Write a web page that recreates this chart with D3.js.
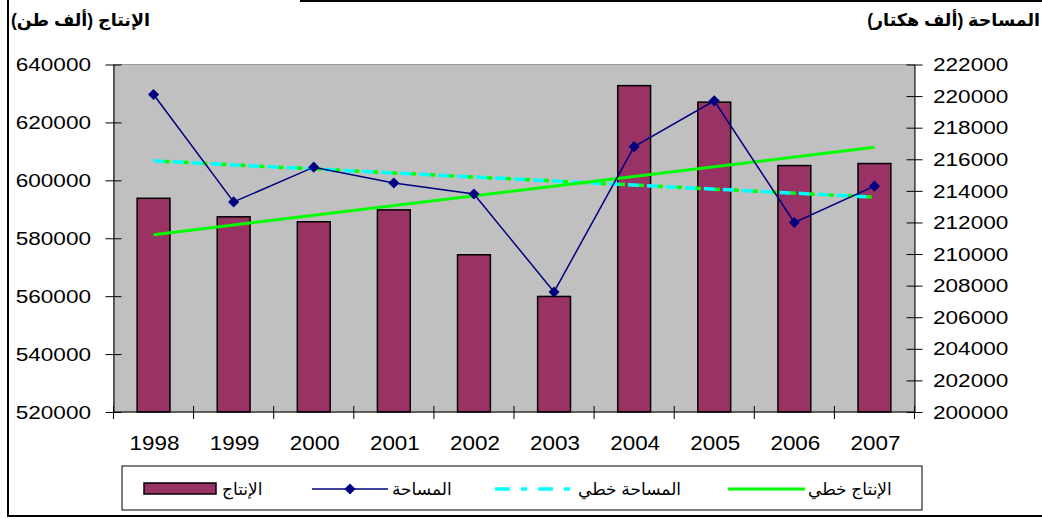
<!DOCTYPE html>
<html>
<head>
<meta charset="utf-8">
<script src="https://cdn.jsdelivr.net/npm/d3@7"></script>
<style>
  body { margin: 0; background: #fff; }
  text { font-family: "Liberation Sans", Arial, "DejaVu Sans", sans-serif; }
</style>
</head>
<body>
<div id="chart"></div>
<script>
var years = ["1998", "1999", "2000", "2001", "2002", "2003", "2004", "2005", "2006", "2007"];
var production = [593800, 587400, 585700, 589800, 574300, 559900, 632700, 627000, 605100, 605800];
var area = [220100, 213300, 215500, 214500, 213800, 207600, 216800, 219700, 212000, 214300];
// trend lines (start 1998, end 2007)
var productionTrend = [581200, 611400];
var areaTrend = [215900, 213600];
var leftTicks = [520000, 540000, 560000, 580000, 600000, 620000, 640000];
var rightTicks = [200000, 202000, 204000, 206000, 208000, 210000, 212000, 214000, 216000, 218000, 220000, 222000];
var leftTitle = "الإنتاج (ألف طن)";
var rightTitle = "المساحة (ألف هكتار)";
var legendLabels = ["الإنتاج", "المساحة", "المساحة خطي", "الإنتاج خطي"];

var W = 1042, H = 519;
var plot = {left: 113.5, right: 914.5, top: 64.5, bottom: 412};

var svg = d3.select("#chart").append("svg").attr("width", W).attr("height", H);

// outer frame
svg.append("line").attr("x1", 8).attr("x2", 8).attr("y1", 0).attr("y2", 517).attr("stroke", "#000").attr("stroke-width", 2);
svg.append("line").attr("x1", 7).attr("x2", W).attr("y1", 516).attr("y2", 516).attr("stroke", "#000").attr("stroke-width", 2);
svg.append("line").attr("x1", 300).attr("x2", W).attr("y1", 1).attr("y2", 1).attr("stroke", "#000").attr("stroke-width", 2);

var x = d3.scaleBand().domain(years).range([plot.left, plot.right]).paddingInner(0.59).paddingOuter(0.295);
var yL = d3.scaleLinear().domain([520000, 640000]).range([plot.bottom, plot.top]);
var yR = d3.scaleLinear().domain([200000, 222000]).range([plot.bottom, plot.top]);
var cx = d => x(d) + x.bandwidth() / 2;

svg.append("rect").attr("x", plot.left).attr("y", plot.top).attr("width", plot.right - plot.left).attr("height", plot.bottom - plot.top)
  .attr("fill", "#c0c0c0").attr("stroke", "#9a9a9a").attr("stroke-width", 1);

// bars
svg.append("g").selectAll("rect").data(production).enter().append("rect")
  .attr("x", (d, i) => x(years[i]))
  .attr("y", d => yL(d))
  .attr("width", x.bandwidth())
  .attr("height", d => plot.bottom - yL(d))
  .attr("fill", "#993366").attr("stroke", "#000").attr("stroke-width", 1.5);

// area trend (cyan dashes with green bits in between)
var areaTrendPts = [[cx(years[0]), yR(areaTrend[0])], [cx(years[years.length - 1]), yR(areaTrend[1])]];
svg.append("path").attr("d", d3.line()(areaTrendPts)).attr("fill", "none")
  .attr("stroke", "#00ff00").attr("stroke-width", 3.5).attr("stroke-dasharray", "5,14").attr("stroke-dashoffset", -11);
svg.append("path").attr("d", d3.line()(areaTrendPts)).attr("fill", "none")
  .attr("stroke", "#00ffff").attr("stroke-width", 3.5).attr("stroke-dasharray", "11,8");

// production trend
var prodTrendPts = [[cx(years[0]), yL(productionTrend[0])], [cx(years[years.length - 1]), yL(productionTrend[1])]];
svg.append("path").attr("d", d3.line()(prodTrendPts)).attr("fill", "none").attr("stroke", "#00ff00").attr("stroke-width", 3);

// area line
var areaLine = d3.line().x((d, i) => cx(years[i])).y(d => yR(d));
svg.append("path").attr("d", areaLine(area)).attr("fill", "none").attr("stroke", "#000080").attr("stroke-width", 1.5);
var diamond = d3.symbol().type(d3.symbolSquare).size(62);
svg.append("g").selectAll("path").data(area).enter().append("path")
  .attr("d", diamond)
  .attr("transform", (d, i) => "translate(" + cx(years[i]) + "," + yR(d) + ") rotate(45)")
  .attr("fill", "#000080");

// axes
var leftAxis = d3.axisLeft(yL).tickValues(leftTicks).tickSizeInner(8).tickSizeOuter(0).tickFormat("");
var gL = svg.append("g").attr("transform", "translate(" + plot.left + ",0)").call(leftAxis);
gL.selectAll(".tick line").attr("x2", -8).attr("x1", 8);
var rightAxis = d3.axisRight(yR).tickValues(rightTicks).tickSizeInner(8).tickSizeOuter(0).tickFormat("");
var gR = svg.append("g").attr("transform", "translate(" + plot.right + ",0)").call(rightAxis);
gR.selectAll(".tick line").attr("x1", -8).attr("x2", 8);
var bottomTicks = d3.range(years.length + 1).map(i => plot.left + i * x.step());
var gB = svg.append("g");
gB.append("line").attr("x1", plot.left).attr("x2", plot.right).attr("y1", plot.bottom).attr("y2", plot.bottom).attr("stroke", "#000");
gB.selectAll("line.t").data(bottomTicks).enter().append("line").attr("class", "t")
  .attr("x1", d => d).attr("x2", d => d).attr("y1", plot.bottom - 6).attr("y2", plot.bottom + 7).attr("stroke", "#000");
[gL, gR].forEach(g => g.selectAll(".domain, .tick line").attr("stroke", "#000"));

// tick labels (stretched like the original)
function stretchedText(parent, tx, ty, str, size, sx, anchor) {
  return parent.append("text").attr("transform", "translate(" + tx + "," + ty + ") scale(" + sx + ",1)")
    .attr("text-anchor", anchor).attr("dy", "0.36em").attr("font-size", size).attr("fill", "#000").text(str);
}
leftTicks.forEach(v => stretchedText(svg, 91, yL(v), v, 18.5, 1.22, "end"));
rightTicks.forEach(v => stretchedText(svg, 933, yR(v), v, 18.5, 1.22, "start"));
years.forEach(y => stretchedText(svg, cx(y) + 1, 443, y, 19.5, 1.15, "middle"));

// titles
svg.append("text").attr("x", 11).attr("y", 26).attr("direction", "rtl").attr("text-anchor", "end")
  .attr("font-size", 17.5).attr("font-weight", "bold").text(leftTitle);
svg.append("text").attr("x", 1040).attr("y", 26).attr("direction", "rtl").attr("text-anchor", "start")
  .attr("font-size", 17.5).attr("font-weight", "bold").text(rightTitle);

// legend
var lg = svg.append("g");
lg.append("rect").attr("x", 122).attr("y", 466).attr("width", 800).attr("height", 44).attr("fill", "#fff").attr("stroke", "#000").attr("stroke-width", 1);
var ly = 489;
lg.append("rect").attr("x", 144).attr("y", 483).attr("width", 72).attr("height", 11).attr("fill", "#993366").attr("stroke", "#000").attr("stroke-width", 1.5);
lg.append("line").attr("x1", 312).attr("x2", 388).attr("y1", ly).attr("y2", ly).attr("stroke", "#000080").attr("stroke-width", 1.5);
lg.append("path").attr("d", diamond).attr("transform", "translate(350," + ly + ") rotate(45)").attr("fill", "#000080");
lg.append("line").attr("x1", 495).attr("x2", 572).attr("y1", ly).attr("y2", ly).attr("stroke", "#00ffff").attr("stroke-width", 3.5).attr("stroke-dasharray", "15,11,6,11");
lg.append("line").attr("x1", 728).attr("x2", 805).attr("y1", ly).attr("y2", ly).attr("stroke", "#00ff00").attr("stroke-width", 3);
var legendTextX = [222, 392, 578, 808];
legendLabels.forEach((t, i) => {
  lg.append("text").attr("x", legendTextX[i]).attr("y", ly).attr("dy", "0.33em").attr("direction", "rtl").attr("text-anchor", "end")
    .attr("font-size", 17).text(t);
});
</script>
</body>
</html>
